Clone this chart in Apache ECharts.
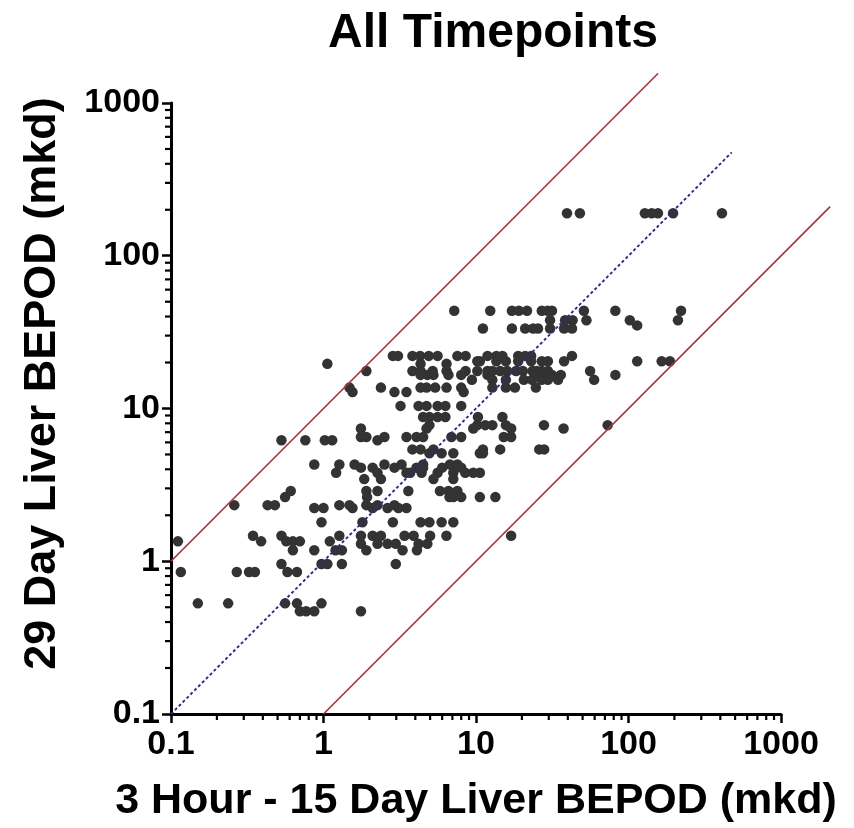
<!DOCTYPE html>
<html>
<head>
<meta charset="utf-8">
<script src="https://cdn.jsdelivr.net/npm/echarts@6/dist/echarts.min.js"></script>
<style>
  html, body { margin: 0; padding: 0; background: #fff; }
  #chart { width: 854px; height: 828px; }
</style>
</head>
<body>
<div id="chart"></div>
<script>
// 29 day BEPOD levels (y) and the 3h-15d BEPOD values (x) sitting on each level
const rowY = [190, 43.6, 37.8, 35, 33.4, 22.1, 20.4, 19.6, 17.6, 16.6, 15.4, 13.7, 12.8, 10.4, 8.8,
  7.78, 7.4, 6.5, 6.2, 5.4, 5.1, 4.3, 4.1, 3.8, 3.45, 2.88, 2.63, 2.33, 2.23, 1.8, 1.47, 1.35,
  1.3, 1.18, 0.96, 0.85, 0.53, 0.47];
const rowX = [
  [39.5, 48, 128, 142, 156, 196, 410],
  [7.2, 12.4, 17.2, 19.1, 21.6, 27, 29.5, 31.5, 51, 82, 221],
  [30.6, 38.4, 43, 53, 102, 211],
  [114],
  [11.1, 17.2, 21, 23.7, 25.5, 30.6, 37.8, 42.6],
  [2.85, 3.08, 3.83, 4.3, 4.9, 5.6, 7.55, 8.55, 11.9, 13.6, 14.9, 18.9, 21, 23, 42.6],
  [10.2, 10.6, 13.6, 15.7, 18.9, 23, 27, 29.6, 37.8, 114, 165, 187],
  [1.06, 4.33, 6.41],
  [1.91, 3.83, 4.33, 5.2, 6.41, 8.55, 10.2, 11.9, 12.8, 14.4, 16, 18.3, 20.3, 23.5, 25, 27, 29.6, 56],
  [4.33, 4.8, 5.26, 6.6, 8.0, 11.9, 24.7, 27.5, 31.5, 36, 82],
  [9.4, 12.8, 15.7, 20.6, 23.3, 27, 29.6, 34.5, 59.5],
  [1.48, 2.38, 4.33, 4.74, 5.4, 6.41, 8.0, 12.8, 15.7, 18, 24.7],
  [1.55, 2.92, 3.5, 8.3],
  [3.2, 4.2, 4.74, 5.6, 6.3, 8.0],
  [4.5, 4.95, 5.6, 6.3, 10.3, 14.9],
  [4.95, 10.2, 11.5, 12.8, 15.7, 27.9, 73],
  [1.76, 4.74, 9.6, 17, 37.5],
  [1.76, 1.91, 2.51, 3.5, 4.07, 4.5, 6.9, 8.0, 15.2, 17],
  [0.53, 0.76, 1.02, 1.14, 2.26],
  [3.83, 4.33, 5.26, 11.1, 14.4, 26, 28],
  [4.95, 5.95, 7.1, 10.6, 11.1],
  [0.87, 1.27, 1.6, 2.51, 3.25, 4.5, 6.75, 7.55],
  [1.76, 2.1, 2.92, 4.07, 4.5, 6.0, 8.0],
  [1.21, 2.26, 3.5, 3.7, 4.4, 5.6, 7.1, 8.5, 9.6, 10.6],
  [1.85, 2.38, 5.26, 7.1],
  [0.61, 1.91, 2.26, 3.6, 5.8, 6.6, 7.55],
  [0.56, 1.93, 6.7, 7.1, 8.0, 10.6, 13.4],
  [0.26, 0.43, 0.48, 1.27, 1.48, 1.91, 2.26, 2.92],
  [0.87, 1.0, 1.55, 2.1, 2.63, 3.1, 3.5],
  [0.97, 1.8, 2.85, 4.33, 4.95, 5.95, 7.1],
  [0.345, 0.53, 1.27, 1.76, 2.1, 2.38, 3.4, 3.9, 5.0, 6.4, 17],
  [0.111, 0.39, 0.57, 0.63, 0.7, 1.1],
  [1.76, 2.26, 2.63, 2.98, 4.2, 4.8],
  [0.63, 0.87, 1.2, 1.32, 1.91, 3.3, 4.1],
  [0.53, 0.97, 1.06, 1.32, 2.98],
  [0.116, 0.27, 0.325, 0.355, 0.58, 0.67],
  [0.15, 0.237, 0.56, 0.67, 0.97],
  [0.7, 0.77, 0.87, 1.76]
];

// reference lines as [x1, y1, x2, y2]: 10x above, identity, 10x below
const upperLine = [0.1, 1, 156, 1560];
const identityLine = [0.1, 0.1, 475, 475];
const lowerLine = [1, 0.1, 2100, 210];

const decades = [0.1, 1, 10, 100];
const minorSteps = [2, 3, 4, 5, 6, 7, 8, 9];

const points = [];
rowY.forEach((y, i) => {
  rowX[i].forEach(x => points.push([x, y]));
});

const minorVals = [];
decades.forEach(d => minorSteps.forEach(m => minorVals.push(+(d * m).toPrecision(3))));

const font = 'Liberation Sans';
const chart = echarts.init(document.getElementById('chart'));

// a straight segment drawn through the axes' own scales, not clipped to the grid
function segmentSeries(seg, color, width, dash) {
  return {
    type: 'custom',
    data: [seg],
    encode: { x: [0, 2], y: [1, 3] },
    clip: false,
    silent: true,
    z: 3,
    renderItem: (params, api) => {
      const p1 = api.coord([api.value(0), api.value(1)]);
      const p2 = api.coord([api.value(2), api.value(3)]);
      return {
        type: 'line',
        shape: { x1: p1[0], y1: p1[1], x2: p2[0], y2: p2[1] },
        style: { stroke: color, lineWidth: width, lineDash: dash || null }
      };
    }
  };
}

const option = {
  backgroundColor: '#fff',
  animation: false,
  title: {
    text: 'All Timepoints',
    left: 488,
    top: 5,
    textAlign: 'center',
    textStyle: { fontFamily: font, fontWeight: 'bold', fontSize: 48, color: '#000' }
  },
  grid: { left: 171, right: 73, top: 103, bottom: 112 },
  xAxis: {
    type: 'log',
    logBase: 10,
    min: 0.1,
    max: 1000,
    name: '3 Hour - 15 Day Liver BEPOD (mkd)',
    nameLocation: 'middle',
    nameGap: 66,
    nameTextStyle: { fontFamily: font, fontWeight: 'bold', fontSize: 43, color: '#000' },
    axisLine: { lineStyle: { color: '#000', width: 3 } },
    axisTick: { length: 9, lineStyle: { color: '#000', width: 2.5 } },
    axisLabel: {
      fontFamily: font, fontWeight: 'bold', fontSize: 34, color: '#000', margin: 14,
      formatter: v => String(v)
    },
    splitLine: { show: false }
  },
  yAxis: {
    type: 'log',
    logBase: 10,
    min: 0.1,
    max: 1000,
    name: '29 Day Liver BEPOD (mkd)',
    nameLocation: 'middle',
    nameGap: 106,
    nameTextStyle: {
      fontFamily: font, fontWeight: 'bold', fontSize: 45, color: '#000',
      padding: [0, 0, 0, 50]
    },
    axisLine: { lineStyle: { color: '#000', width: 3 } },
    axisTick: { length: 9, lineStyle: { color: '#000', width: 2.5 } },
    axisLabel: {
      fontFamily: font, fontWeight: 'bold', fontSize: 34, color: '#000', margin: 11,
      formatter: v => String(v)
    },
    splitLine: { show: false }
  },
  series: [
    {
      type: 'scatter',
      data: points,
      symbolSize: 10.5,
      z: 2,
      itemStyle: { color: '#333333', opacity: 1 }
    },
    segmentSeries(upperLine, '#a53838', 1.7),
    segmentSeries(lowerLine, '#a53838', 1.7),
    segmentSeries(identityLine, '#2a2a8a', 1.9, [3, 2.5]),
    {
      // minor ticks on the x axis
      type: 'custom',
      data: minorVals.map(v => [v, 0.1]),
      clip: false,
      silent: true,
      renderItem: (params, api) => {
        const p = api.coord([api.value(0), api.value(1)]);
        return {
          type: 'line',
          shape: { x1: p[0], y1: p[1], x2: p[0], y2: p[1] + 6 },
          style: { stroke: '#000', lineWidth: 2.2 }
        };
      }
    },
    {
      // minor ticks on the y axis
      type: 'custom',
      data: minorVals.map(v => [0.1, v]),
      clip: false,
      silent: true,
      renderItem: (params, api) => {
        const p = api.coord([api.value(0), api.value(1)]);
        return {
          type: 'line',
          shape: { x1: p[0] - 6, y1: p[1], x2: p[0], y2: p[1] },
          style: { stroke: '#000', lineWidth: 2.2 }
        };
      }
    }
  ]
};

chart.setOption(option);
</script>
</body>
</html>
